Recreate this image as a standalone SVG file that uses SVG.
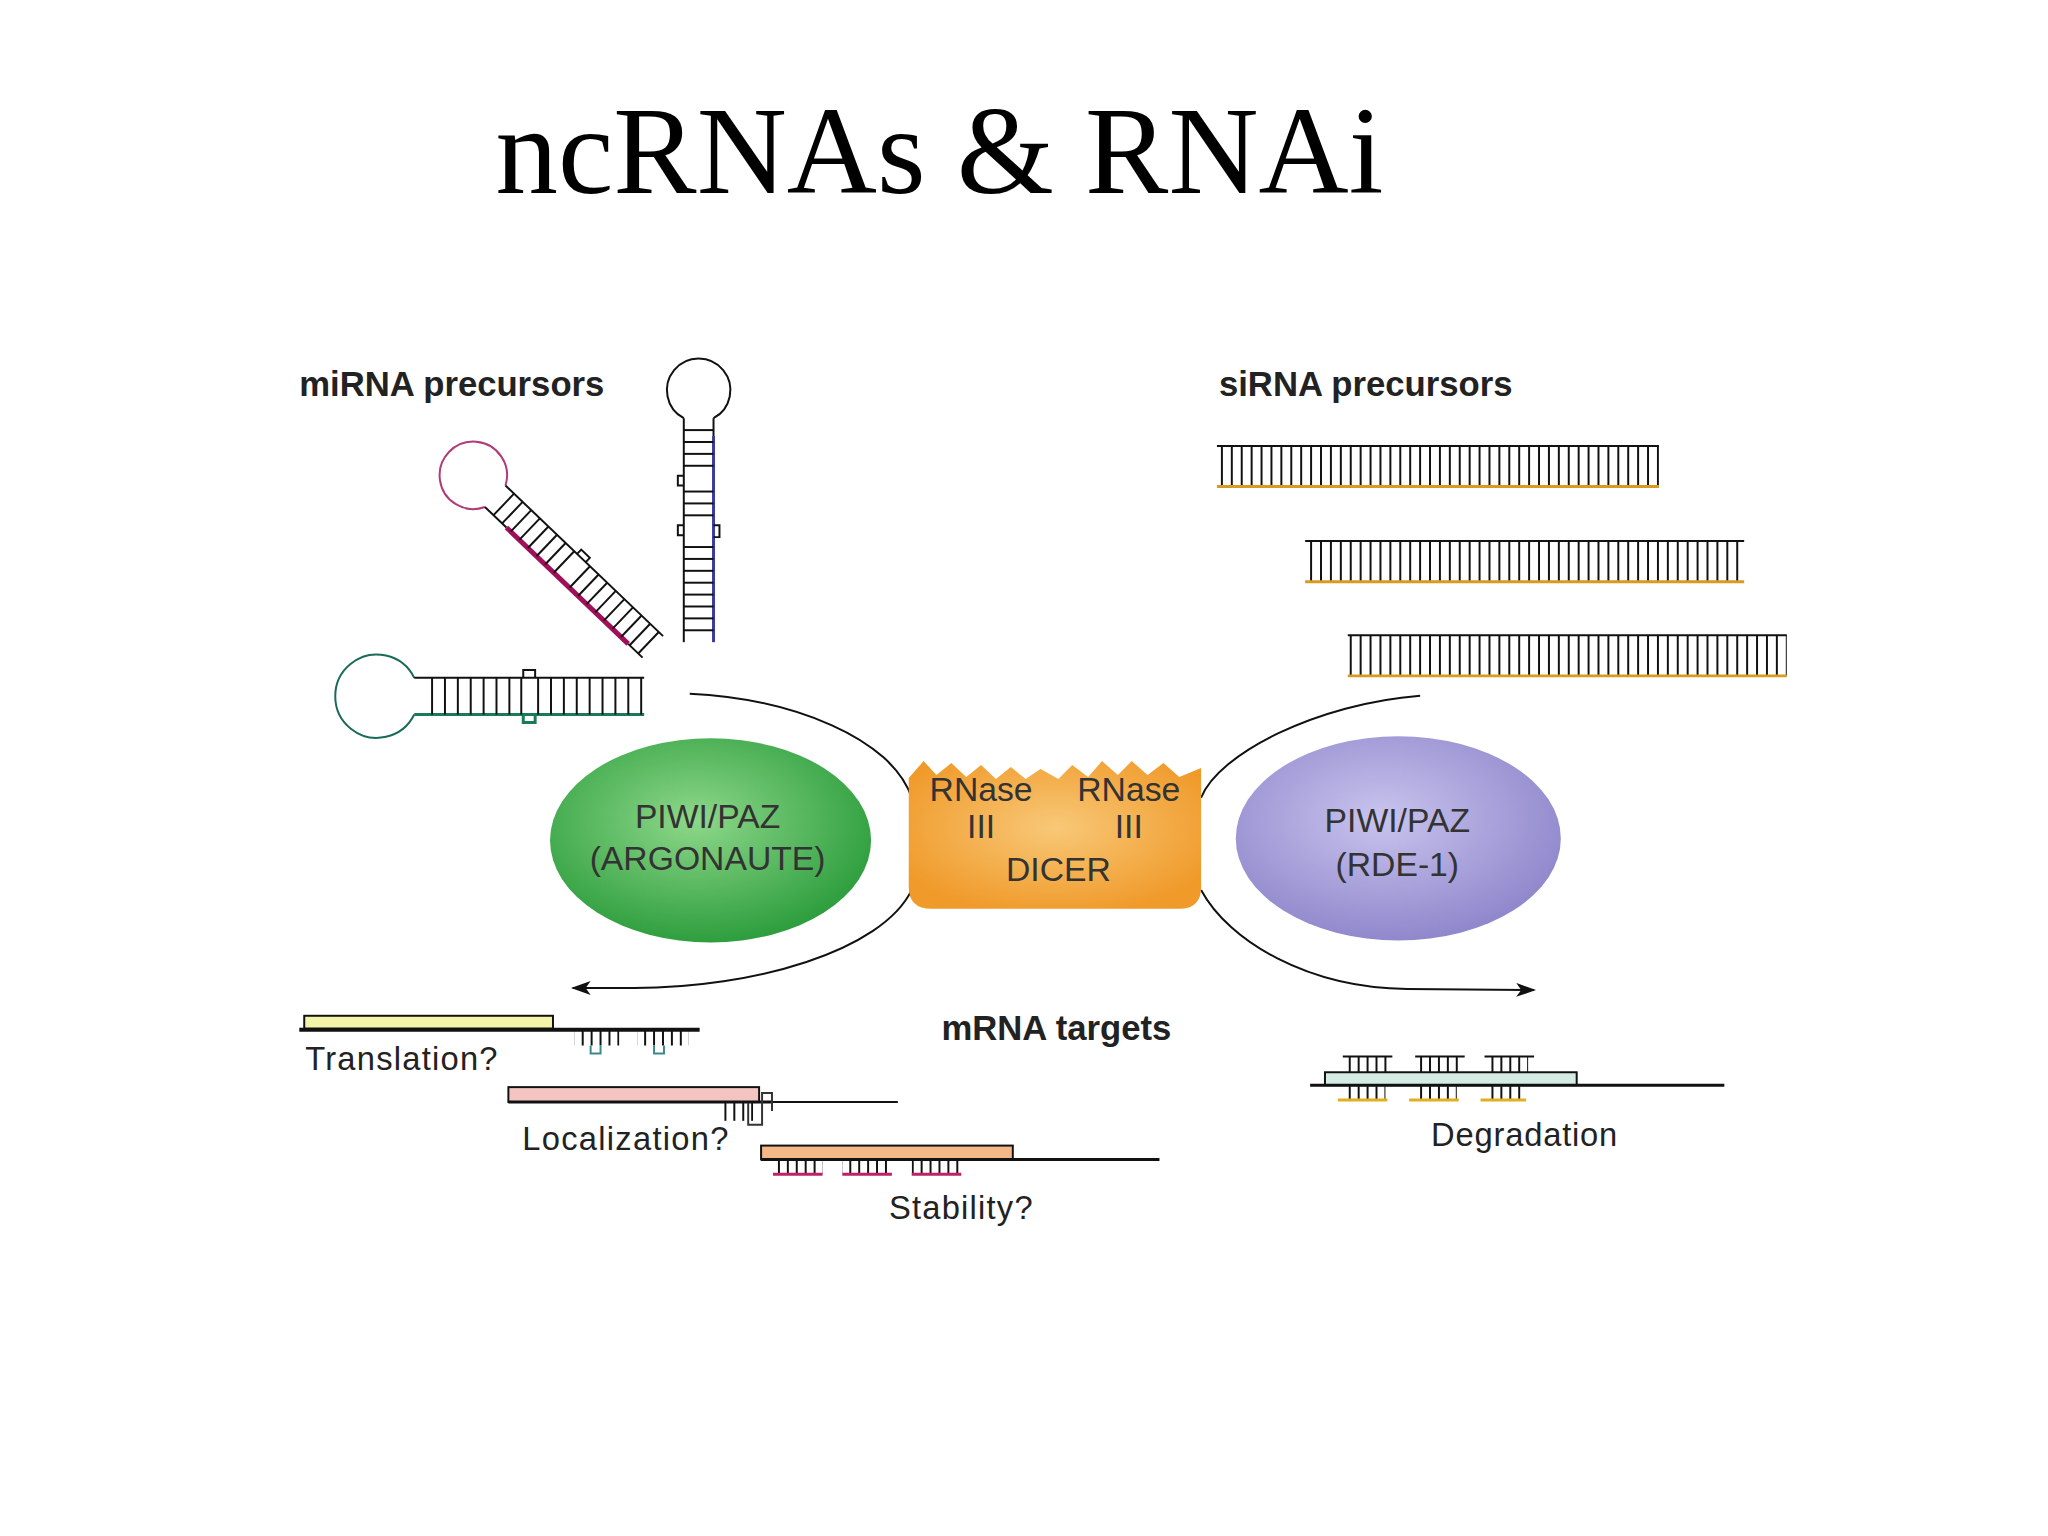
<svg xmlns="http://www.w3.org/2000/svg" width="2048" height="1536" viewBox="0 0 2048 1536">
<defs>
<style>
.lbl{font-family:"Liberation Sans",Arial,sans-serif;fill:#222}
.b{font-weight:bold;font-size:35px}
.n{font-size:33px}
.in{font-size:34px;fill:#333;text-anchor:middle}
.s{fill:none;stroke:#111;stroke-width:2}
.c{fill:none;stroke:#111;stroke-width:2}
</style>
<marker id="ah" viewBox="0 0 20 14" refX="18" refY="7" markerWidth="20" markerHeight="14" markerUnits="userSpaceOnUse" orient="auto"><path d="M0,0 L20,7 L0,14 L5,7 Z" fill="#111"/></marker>
<pattern id="rung" width="10" height="50" patternUnits="userSpaceOnUse"><line x1="3" y1="0" x2="3" y2="50" stroke="#111" stroke-width="2"/></pattern>
<pattern id="rung2" width="9" height="50" patternUnits="userSpaceOnUse"><line x1="3" y1="0" x2="3" y2="50" stroke="#111" stroke-width="2"/></pattern>
<radialGradient id="gg" cx="0.45" cy="0.4" r="0.6"><stop offset="0" stop-color="#8ed88a"/><stop offset="1" stop-color="#2e9e3e"/></radialGradient>
<radialGradient id="pg" cx="0.45" cy="0.4" r="0.6"><stop offset="0" stop-color="#c9c4ee"/><stop offset="1" stop-color="#9088cc"/></radialGradient>
<radialGradient id="og" cx="0.5" cy="0.45" r="0.6"><stop offset="0" stop-color="#f8c878"/><stop offset="1" stop-color="#f09a2a"/></radialGradient>
</defs>
<rect width="2048" height="1536" fill="#fff"/>
<g transform="scale(0.991)">
<text x="948" y="195" text-anchor="middle" font-family="Liberation Serif,Times New Roman,serif" font-size="126" fill="#000">ncRNAs &amp; RNAi</text>
<text class="lbl b" x="302" y="400">miRNA precursors</text>
<text class="lbl b" x="1230" y="400">siRNA precursors</text>
<text class="lbl b" x="950" y="1049">mRNA targets</text>

<g id="hairpin-vertical">
<path d="M690,422 A32,32 0 1 1 720,422" class="s"/>
<line x1="690" y1="422" x2="690" y2="648" class="s"/>
<line x1="720" y1="422" x2="720" y2="440" class="s"/>
<line x1="720" y1="440" x2="720" y2="648" stroke="#3a3aa0" stroke-width="3"/>
<path d="M720,530 l6,0 l0,12 l-6,0" class="s"/>
<path d="M690,480 l-6,0 l0,10 l6,0" class="s"/>
<path d="M690,530 l-6,0 l0,10 l6,0" class="s"/>
<g stroke="#111" stroke-width="2">
<line x1="690" y1="434" x2="720" y2="434"/><line x1="690" y1="446" x2="720" y2="446"/><line x1="690" y1="458" x2="720" y2="458"/><line x1="690" y1="470" x2="720" y2="470"/><line x1="690" y1="496" x2="720" y2="496"/><line x1="690" y1="508" x2="720" y2="508"/><line x1="690" y1="520" x2="720" y2="520"/><line x1="690" y1="552" x2="720" y2="552"/><line x1="690" y1="564" x2="720" y2="564"/><line x1="690" y1="576" x2="720" y2="576"/><line x1="690" y1="588" x2="720" y2="588"/><line x1="690" y1="600" x2="720" y2="600"/><line x1="690" y1="612" x2="720" y2="612"/><line x1="690" y1="624" x2="720" y2="624"/><line x1="690" y1="636" x2="720" y2="636"/>
</g>
</g>

<g id="hairpin-diagonal" transform="translate(478,480) rotate(43.7)">
<path d="M30,-15 A34,34 0 1 0 30,15" fill="none" stroke="#b03a7a" stroke-width="2"/>
<line x1="30" y1="-15" x2="250" y2="-15" class="s"/>
<line x1="30" y1="15" x2="60" y2="15" class="s"/>
<line x1="60" y1="15" x2="230" y2="15" stroke="#a0105a" stroke-width="5"/>
<line x1="230" y1="15" x2="250" y2="15" class="s"/>
<path d="M130,-15 l0,-6 l12,0 l0,6" class="s"/>
<g stroke="#111" stroke-width="2">
<line x1="42" y1="-15" x2="42" y2="15"/><line x1="54" y1="-15" x2="54" y2="15"/><line x1="66" y1="-15" x2="66" y2="15"/><line x1="78" y1="-15" x2="78" y2="15"/><line x1="90" y1="-15" x2="90" y2="15"/><line x1="102" y1="-15" x2="102" y2="15"/><line x1="114" y1="-15" x2="114" y2="15"/><line x1="126" y1="-15" x2="126" y2="15"/><line x1="148" y1="-15" x2="148" y2="15"/><line x1="160" y1="-15" x2="160" y2="15"/><line x1="172" y1="-15" x2="172" y2="15"/><line x1="184" y1="-15" x2="184" y2="15"/><line x1="196" y1="-15" x2="196" y2="15"/><line x1="208" y1="-15" x2="208" y2="15"/><line x1="220" y1="-15" x2="220" y2="15"/><line x1="232" y1="-15" x2="232" y2="15"/><line x1="244" y1="-15" x2="244" y2="15"/>
</g>
</g>

<g id="hairpin-horizontal">
<path d="M418,684 A42,42 0 1 0 418,721" fill="none" stroke="#1a6a5a" stroke-width="2"/>
<line x1="418" y1="684" x2="650" y2="684" class="s"/>
<line x1="418" y1="721" x2="650" y2="721" stroke="#1a7a5a" stroke-width="3"/>
<path d="M528,684 l0,-8 l12,0 l0,8" class="s"/>
<path d="M528,721 l0,8 l12,0 l0,-8" fill="none" stroke="#1a7a5a" stroke-width="3"/>
<g stroke="#111" stroke-width="2">
<line x1="436" y1="684" x2="436" y2="721"/><line x1="449" y1="684" x2="449" y2="721"/><line x1="462" y1="684" x2="462" y2="721"/><line x1="475" y1="684" x2="475" y2="721"/><line x1="488" y1="684" x2="488" y2="721"/><line x1="501" y1="684" x2="501" y2="721"/><line x1="514" y1="684" x2="514" y2="721"/><line x1="526" y1="684" x2="526" y2="721"/><line x1="543" y1="684" x2="543" y2="721"/><line x1="556" y1="684" x2="556" y2="721"/><line x1="569" y1="684" x2="569" y2="721"/><line x1="582" y1="684" x2="582" y2="721"/><line x1="595" y1="684" x2="595" y2="721"/><line x1="608" y1="684" x2="608" y2="721"/><line x1="621" y1="684" x2="621" y2="721"/><line x1="634" y1="684" x2="634" y2="721"/><line x1="647" y1="684" x2="647" y2="721"/>
</g>
</g>

<g id="sirna-1">
<rect x="1228" y="450" width="446" height="41" fill="url(#rung)"/>
<line x1="1228" y1="450" x2="1674" y2="450" class="s"/>
<line x1="1228" y1="491" x2="1674" y2="491" stroke="#d89a20" stroke-width="3"/>
</g>
<g id="sirna-2">
<rect x="1317" y="546" width="443" height="41" fill="url(#rung)"/>
<line x1="1317" y1="546" x2="1760" y2="546" class="s"/>
<line x1="1317" y1="587" x2="1760" y2="587" stroke="#d89a20" stroke-width="3"/>
</g>
<g id="sirna-3">
<rect x="1360" y="641" width="443" height="41" fill="url(#rung)"/>
<line x1="1360" y1="641" x2="1803" y2="641" class="s"/>
<line x1="1360" y1="682" x2="1803" y2="682" stroke="#d89a20" stroke-width="3"/>
</g>

<g id="connectors">
<path d="M696,700 C800,705 900,745 920,805" class="c"/>
<path d="M920,898 C890,960 760,997 640,997 L578,997" class="c" marker-end="url(#ah)"/>
<path d="M1433,702 C1330,710 1230,760 1212,805" class="c"/>
<path d="M1212,898 C1240,950 1320,997 1420,998 L1548,999" class="c" marker-end="url(#ah)"/>
</g>

<g id="argonaute">
<ellipse cx="717" cy="848" rx="162" ry="103" fill="url(#gg)"/>
<text class="lbl in" x="714" y="836">PIWI/PAZ</text>
<text class="lbl in" x="714" y="878">(ARGONAUTE)</text>
</g>

<g id="dicer">
<path d="M917,785 L932,768 L945,782 L960,770 L975,784 L990,772 L1005,786 L1020,774 L1035,786 L1050,776 L1068,786 L1082,772 L1098,784 L1112,768 L1128,782 L1142,768 L1158,782 L1174,770 L1190,784 L1212,775 L1212,895 Q1212,917 1190,917 L940,917 Q917,917 917,895 Z" fill="url(#og)"/>
<text class="lbl in" x="990" y="808">RNase</text>
<text class="lbl in" x="990" y="846">III</text>
<text class="lbl in" x="1139" y="808">RNase</text>
<text class="lbl in" x="1139" y="846">III</text>
<text class="lbl in" x="1068" y="889">DICER</text>
</g>

<g id="rde1">
<ellipse cx="1411" cy="846" rx="164" ry="103" fill="url(#pg)"/>
<text class="lbl in" x="1410" y="840">PIWI/PAZ</text>
<text class="lbl in" x="1410" y="884">(RDE-1)</text>
</g>

<g id="translation">
<rect x="307" y="1025" width="251" height="13" fill="#f4f4a8" stroke="#111" stroke-width="2"/>
<line x1="302" y1="1039" x2="706" y2="1039" stroke="#111" stroke-width="4"/>
<rect x="580" y="1040" width="45" height="15" fill="url(#rung2)"/>
<rect x="643" y="1040" width="52" height="15" fill="url(#rung2)"/>
<path d="M596,1055 l0,8 l10,0 l0,-8 M660,1055 l0,8 l10,0 l0,-8" fill="none" stroke="#3a8a8a" stroke-width="2"/>
<text class="lbl n" x="308" y="1080" textLength="194">Translation?</text>
</g>
<g id="localization">
<rect x="513" y="1097" width="253" height="15" fill="#f4c4c0" stroke="#111" stroke-width="2"/>
<line x1="513" y1="1112" x2="780" y2="1112" stroke="#111" stroke-width="3"/>
<line x1="780" y1="1112" x2="906" y2="1112" class="s"/>
<rect x="730" y="1113" width="30" height="18" fill="url(#rung2)"/>
<path d="M755,1113 l0,22 l14,0 l0,-22 M769,1113 l0,-10 l10,0 l0,18" fill="none" stroke="#333" stroke-width="2"/>
<text class="lbl n" x="527" y="1160" textLength="208">Localization?</text>
</g>
<g id="stability">
<rect x="768" y="1156" width="254" height="14" fill="#f4b888" stroke="#111" stroke-width="2"/>
<line x1="768" y1="1170" x2="1170" y2="1170" stroke="#111" stroke-width="3"/>
<rect x="780" y="1171" width="50" height="14" fill="url(#rung2)"/>
<rect x="850" y="1171" width="50" height="14" fill="url(#rung2)"/>
<rect x="920" y="1171" width="50" height="14" fill="url(#rung2)"/>
<path d="M780,1185 h50 M850,1185 h50 M920,1185 h50" stroke="#c0206a" stroke-width="3"/>
<text class="lbl n" x="897" y="1230" textLength="145">Stability?</text>
</g>
<g id="degradation">
<rect x="1337" y="1082" width="254" height="13" fill="#d4ece4" stroke="#111" stroke-width="2"/>
<line x1="1322" y1="1095" x2="1740" y2="1095" stroke="#111" stroke-width="3"/>
<rect x="1358" y="1066" width="42" height="16" fill="url(#rung2)"/>
<rect x="1430" y="1066" width="42" height="16" fill="url(#rung2)"/>
<rect x="1500" y="1066" width="42" height="16" fill="url(#rung2)"/>
<path d="M1355,1066 h50 M1428,1066 h50 M1498,1066 h50" class="s"/>
<rect x="1358" y="1096" width="40" height="14" fill="url(#rung2)"/>
<rect x="1430" y="1096" width="40" height="14" fill="url(#rung2)"/>
<rect x="1500" y="1096" width="40" height="14" fill="url(#rung2)"/>
<path d="M1350,1110 h50 M1422,1110 h50 M1494,1110 h46" stroke="#e0b020" stroke-width="3"/>
<text class="lbl n" x="1444" y="1156" textLength="188">Degradation</text>
</g>
</g>
</svg>
